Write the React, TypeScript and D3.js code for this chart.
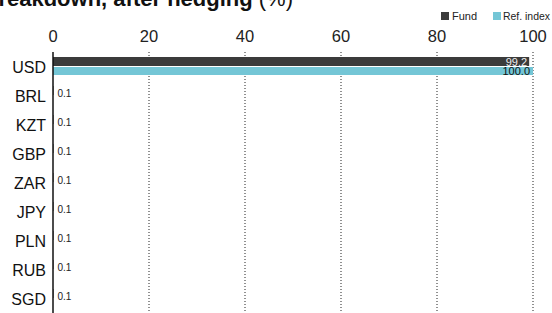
import React from 'react';
import * as d3 from 'd3';

const currencies = ['USD', 'BRL', 'KZT', 'GBP', 'ZAR', 'JPY', 'PLN', 'RUB', 'SGD'];
const fundValues = [99.2, 0.1, 0.1, 0.1, 0.1, 0.1, 0.1, 0.1, 0.1];
const refValues = [100.0, 0, 0, 0, 0, 0, 0, 0, 0];
const xTicks = [0, 20, 40, 60, 80, 100];

const FUND_COLOR = '#3b3b3b';
const REF_COLOR = '#74c6d6';
const FONT = '"Liberation Sans", Arial, Helvetica, sans-serif';

const App: React.FC = () => {
  const width = 552;
  const height = 313;
  const margin = { top: 53, right: 19, bottom: 0, left: 53 };

  const x = d3.scaleLinear().domain([0, 100]).range([margin.left, width - margin.right]);
  const y = d3.scaleBand<string>()
    .domain(currencies)
    .range([53, 314])
    .paddingInner(0)
    .paddingOuter(0);

  const barH = 9;
  const barTop = (c: string) => (y(c) || 0) + 4;

  return (
    <svg
      width={width}
      height={height}
      style={{ position: 'absolute', left: 0, top: 0, fontFamily: FONT }}
    >
      <rect width={width} height={height} fill="#fff" />

      {/* Title, clipped at the left and top edges */}
      <text x={293} y={6} textAnchor="end" fontSize={22} fill="#111">
        <tspan fontWeight="bold">Currency breakdown, after hedging </tspan>
        <tspan>(%)</tspan>
      </text>

      {/* Legend */}
      <g fontSize={11} fill="#222">
        <rect x={441} y={12} width={8} height={8} fill={FUND_COLOR} />
        <text x={452} y={20}>Fund</text>
        <rect x={493} y={12} width={8} height={8} fill={REF_COLOR} />
        <text x={503} y={20} textLength={47} lengthAdjust="spacingAndGlyphs">Ref. index</text>
      </g>

      {/* Gridlines */}
      {xTicks.filter((t) => t > 0).map((t) => (
        <line
          key={t}
          x1={x(t)}
          x2={x(t)}
          y1={52}
          y2={313}
          stroke="#222"
          strokeWidth={1}
          strokeDasharray="1,2"
        />
      ))}

      {/* Tick labels */}
      {xTicks.map((t) => (
        <text key={t} x={x(t)} y={42} textAnchor="middle" fontSize={16.5} fill="#222">
          {t}
        </text>
      ))}

      {/* Bars */}
      {currencies.map((c, i) => {
        const top = barTop(c);
        const fw = x(fundValues[i]) - x(0);
        const rw = x(refValues[i]) - x(0);
        const big = fundValues[i] > 10;
        return (
          <g key={c}>
            <rect x={x(0)} y={top} width={fw} height={barH} fill={FUND_COLOR} />
            <rect x={x(0)} y={top + barH + 1} width={rw} height={barH - 1} fill={REF_COLOR} />
            {big ? (
              <>
                <text x={x(fundValues[i]) - 2} y={top + barH - 0.5} textAnchor="end" fontSize={11} fill="#eee">
                  {fundValues[i].toFixed(1)}
                </text>
                <text x={x(refValues[i]) - 3} y={top + 2 * barH} textAnchor="end" fontSize={11} fill="#111">
                  {refValues[i].toFixed(1)}
                </text>
              </>
            ) : (
              <text x={x(fundValues[i]) + 4} y={top + barH + 2} fontSize={10} fill="#222">
                {fundValues[i].toFixed(1)}
              </text>
            )}
            <text
              x={46}
              y={(y(c) || 0) + y.bandwidth() / 2}
              dy="0.35em"
              textAnchor="end"
              fontSize={16}
              fill="#111"
            >
              {c}
            </text>
          </g>
        );
      })}

      {/* Axis line */}
      <line x1={x(0)} x2={x(0)} y1={52} y2={313} stroke="#111" strokeWidth={1.5} />
    </svg>
  );
};

export default App;
